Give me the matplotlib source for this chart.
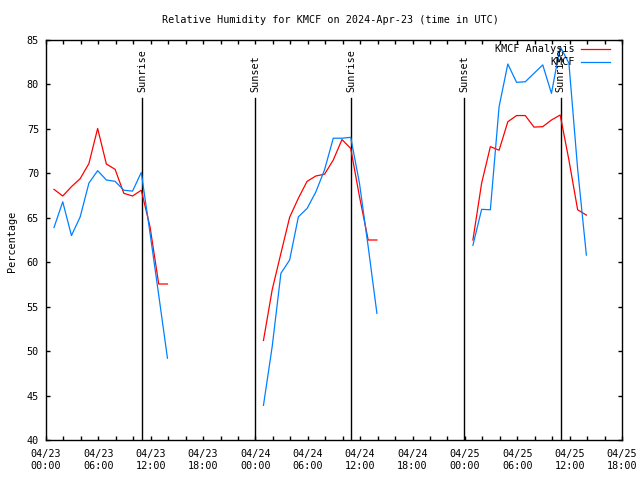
import matplotlib
matplotlib.use('Agg')
import matplotlib.pyplot as plt
import matplotlib.dates as mdates
import pandas as pd

plt.rcParams['font.family'] = ['DejaVu Sans Mono']
plt.rcParams['font.size'] = 7.3

# observations every hour at hh:55, 00:55 - 13:55 each day
day1 = pd.date_range('2024-04-23 00:55', periods=14, freq='h')
day2 = pd.date_range('2024-04-24 00:55', periods=14, freq='h')
day3 = pd.date_range('2024-04-25 00:55', periods=14, freq='h')

anl1 = [68.2, 67.45, 68.5, 69.4, 71.1, 75.05, 71.05, 70.45, 67.75, 67.45, 68.1, 64.0, 57.55, 57.55]
anl2 = [51.2, 56.9, 61.0, 65.05, 67.2, 69.1, 69.7, 69.9, 71.5, 73.8, 72.8, 67.4, 62.5, 62.5]
anl3 = [62.5, 68.9, 73.0, 72.6, 75.8, 76.5, 76.5, 75.2, 75.25, 76.0, 76.56, 71.5, 65.9, 65.3]

obs1 = [63.9, 66.8, 63.0, 65.1, 68.9, 70.3, 69.25, 69.1, 68.1, 68.0, 70.1, 63.3, 56.3, 49.2]
obs2 = [43.9, 50.5, 58.75, 60.25, 65.1, 66.05, 67.9, 70.4, 73.95, 73.95, 74.05, 68.9, 61.75, 54.25]
obs3 = [61.9, 65.95, 65.9, 77.5, 82.3, 80.24, 80.3, 81.25, 82.2, 79.0, 84.25, 82.4, 70.5, 60.8]

sun_times = ['2024-04-23 11:02', '2024-04-23 23:59', '2024-04-24 11:00',
             '2024-04-24 23:57', '2024-04-25 10:59']
sun_labels = ['Sunrise', 'Sunset', 'Sunrise', 'Sunset', 'Sunrise']

red = '#ff0000'
blue = '#0080ff'

fig = plt.figure(figsize=(6.4, 4.8), dpi=100)
ax = fig.add_axes([46/640, 40/480, 576/640, 400/480])

# sunrise / sunset markers
for t, lab in zip(sun_times, sun_labels):
    t = pd.Timestamp(t)
    ax.axvline(t, ymin=0, ymax=0.855, color='k', lw=1)
    ax.text(t, 0.87, lab, transform=ax.get_xaxis_transform(), rotation=90,
            ha='center', va='bottom')

for d, a in [(day1, anl1), (day2, anl2), (day3, anl3)]:
    ax.plot(d, a, color=red, lw=0.9)
for d, o in [(day1, obs1), (day2, obs2), (day3, obs3)]:
    ax.plot(d, o, color=blue, lw=0.9)

ax.set_xlim(pd.Timestamp('2024-04-23 00:00'), pd.Timestamp('2024-04-25 18:00'))
ax.set_ylim(40, 85)
ax.set_yticks(range(40, 86, 5))
ax.xaxis.set_major_locator(mdates.HourLocator(byhour=[0, 6, 12, 18]))
ax.xaxis.set_minor_locator(mdates.HourLocator(byhour=range(0, 24, 2)))
ax.xaxis.set_major_formatter(mdates.DateFormatter('%m/%d\n%H:%M'))
ax.tick_params(which='both', direction='in', top=True, right=True, length=3, width=1)
ax.tick_params(axis='x', pad=6.5)
ax.tick_params(axis='y', pad=5)
for s in ax.spines.values():
    s.set_linewidth(1)

# key, gnuplot style (text right, sample line after)
ax.text(0.918, 0.9775, 'KMCF Analysis', transform=ax.transAxes, ha='right', va='center')
ax.plot([0.929, 0.979], [0.9775, 0.9775], transform=ax.transAxes, color=red, lw=0.9)
ax.text(0.918, 0.945, 'KMCF', transform=ax.transAxes, ha='right', va='center')
ax.plot([0.929, 0.979], [0.945, 0.945], transform=ax.transAxes, color=blue, lw=0.9)

fig.text(0.517, 1 - 20/480, 'Relative Humidity for KMCF on 2024-Apr-23 (time in UTC)',
         ha='center', va='center')
fig.text(12/640, 0.498, 'Percentage', rotation=90, ha='center', va='center')

fig.savefig('out.png', dpi=100)
